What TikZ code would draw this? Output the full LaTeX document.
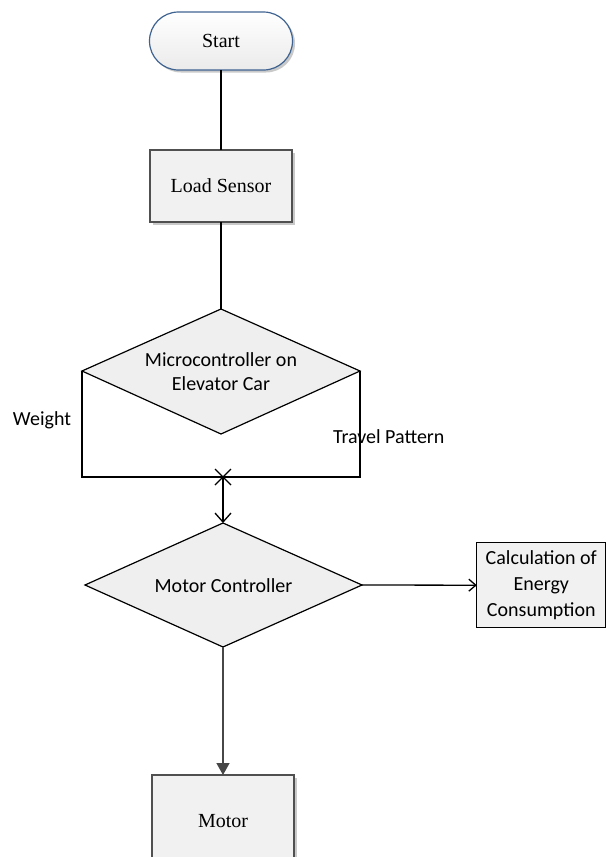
\documentclass[tikz,border=0pt]{standalone}
\usepackage{fontspec}
\setmainfont{Liberation Serif}
\newfontfamily\calfont{Carlito}
\usetikzlibrary{shapes.geometric,arrows.meta,shadows}
\definecolor{termblue}{HTML}{3F6391}
\definecolor{boxfill}{HTML}{F1F1F1}
\definecolor{boxline}{HTML}{505050}
\definecolor{diafill}{HTML}{EFEFEF}
\begin{document}
\begin{tikzpicture}[x=1pt,y=-1pt,
  every node/.style={inner sep=0pt, outer sep=0pt},
  serif/.style={font=\fontsize{20}{24}\selectfont},
  sans/.style={font=\calfont\fontsize{20}{24}\selectfont, align=center},
  shadowed/.style={drop shadow={shadow xshift=2.5pt, shadow yshift=-2.5pt, fill=black!35, opacity=0.6}},
  term/.style={serif, draw=termblue, line width=1.2pt, rounded corners=29pt, top color=white, bottom color=black!8, minimum width=143pt, minimum height=58pt, shadowed},
  procbox/.style={serif, draw=boxline, line width=1.2pt, fill=boxfill, minimum width=142pt, minimum height=72pt, shadowed},
  diashape/.style={draw=black, line width=1.2pt, fill=diafill, line join=miter},
  calcbox/.style={sans, font=\calfont\fontsize{20}{26}\selectfont, draw=black, line width=1.2pt, fill=boxfill, minimum width=129pt, minimum height=85pt},
  conn/.style={draw=black, line width=1.3pt},
  lbl/.style={font=\calfont\fontsize{20}{24}\selectfont}
]
\clip (0,0) rectangle (607,857);
\fill[white] (0,0) rectangle (607,857);

% decision 1 vertices
\coordinate (d1n) at (221,309);
\coordinate (d1w) at (82,371);
\coordinate (d1e) at (360,371);
\coordinate (d1s) at (221,434);
% decision 2 vertices
\coordinate (d2n) at (223,523);
\coordinate (d2w) at (85,585);
\coordinate (d2e) at (362,585);
\coordinate (d2s) at (223,647);
\coordinate (j) at (223,477);

\node[term] (start) at (221,41) {Start};
\node[procbox] (load) at (221,186) {Load Sensor};
\path[diashape] (d1n) -- (d1e) -- (d1s) -- (d1w) -- cycle;
\node[sans] (d1) at (221,372) {Microcontroller on\\Elevator Car};
\path[diashape] (d2n) -- (d2e) -- (d2s) -- (d2w) -- cycle;
\node[sans] (d2) at (223.5,586) {Motor Controller};
\node[calcbox] (calc) at (541.3,585.2) {Calculation of\\Energy\\Consumption};
\node[procbox, minimum height=92pt] (motor) at (223,821) {Motor};

\node[lbl] (weight) at (42,420) {Weight};
\node[lbl, anchor=west] (travel) at (333,437) {Travel Pattern};

\draw[conn] (start.south) -- (load.north);
\draw[conn] (load.south) -- (d1n);
\draw[conn] (d1w) |- (j) -| (d1e);
\draw[conn] ([shift={(-8pt,8pt)}]j) -- ([shift={(8pt,-8pt)}]j);
\draw[conn] ([shift={(-8pt,-8pt)}]j) -- ([shift={(8pt,8pt)}]j);
\draw[conn, -{Straight Barb[length=9pt,width=16pt]}] (j) -- (d2n);
\draw[conn, -{Straight Barb[length=7pt,width=12pt]}] (d2e) -- (calc.west);
\draw[line width=1.4pt, -{Triangle[length=12pt,width=13pt]}, black!72] (d2s) -- (motor.north);
\end{tikzpicture}
\end{document}
